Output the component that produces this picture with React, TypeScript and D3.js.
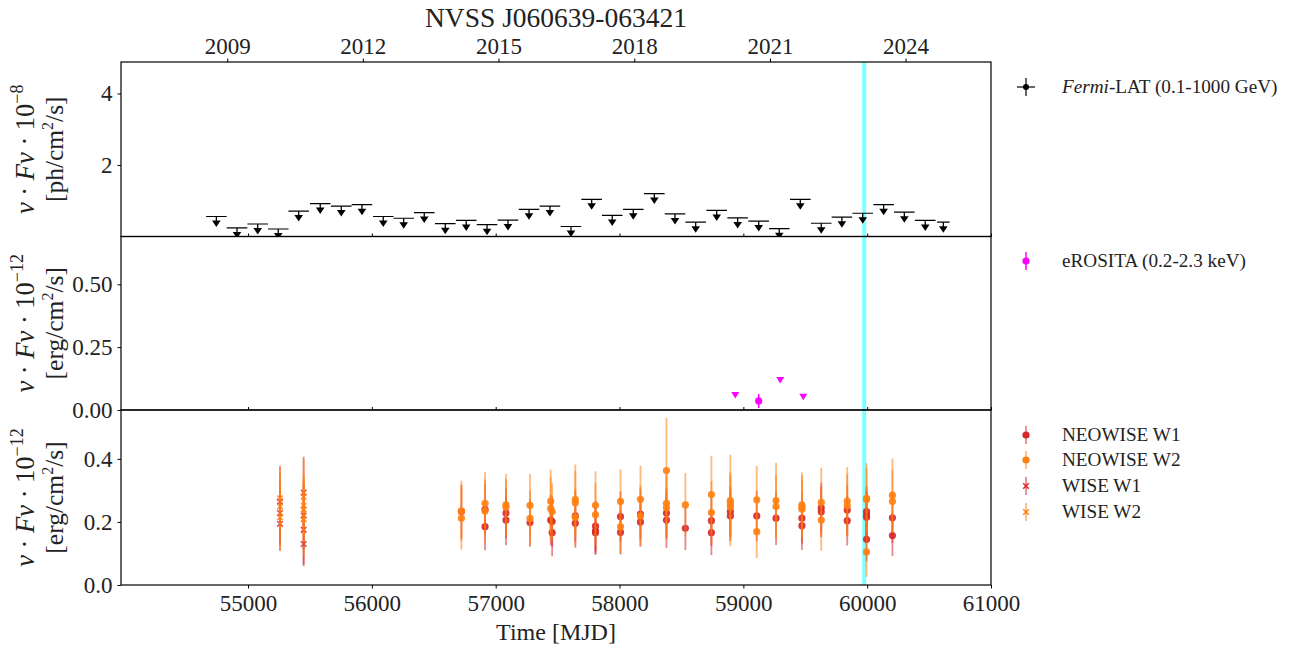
import { useEffect, useRef } from "react";
import * as d3 from "d3";

// ---------- data ----------
const fermiMjd = [54744, 54911, 55078, 55244, 55409, 55583, 55753, 55920, 56092, 56257, 56423, 56593, 56762, 56930, 57099, 57269, 57438, 57608, 57775, 57941, 58111, 58281, 58448, 58615, 58785, 58954, 59124, 59290, 59460, 59629, 59796, 59964, 60133, 60300, 60469, 60615];
const fermiUl = [0.56, 0.24, 0.35, 0.21, 0.71, 0.92, 0.85, 0.89, 0.56, 0.51, 0.67, 0.36, 0.45, 0.33, 0.46, 0.76, 0.85, 0.28, 1.04, 0.59, 0.76, 1.2, 0.63, 0.4, 0.73, 0.52, 0.43, 0.22, 1.04, 0.37, 0.54, 0.65, 0.89, 0.68, 0.45, 0.4];
const fermiHalfBin = [83, 83, 83, 83, 83, 83, 83, 83, 83, 83, 83, 83, 83, 83, 83, 83, 83, 83, 83, 83, 83, 83, 83, 83, 83, 83, 83, 83, 83, 83, 83, 83, 83, 83, 83, 51];

const eroMjd = [58935, 59124, 59298, 59484];
const eroFlux = [0.06, 0.036, 0.119, 0.053];
const eroErr = [0, 0.028, 0, 0];
const eroUl = [true, false, true, true];

const neoW1Mjd = [56723, 56914, 56914, 57083, 57083, 57277, 57444, 57456, 57456, 57643, 57643, 57806, 57806, 57806, 58008, 58008, 58169, 58169, 58379, 58379, 58532, 58742, 58742, 58895, 58895, 59108, 59264, 59473, 59473, 59629, 59629, 59839, 59839, 59995, 59995, 59995, 59995, 60204, 60204];
const neoW1Flux = [0.233, 0.24, 0.185, 0.228, 0.206, 0.198, 0.206, 0.201, 0.166, 0.219, 0.196, 0.187, 0.172, 0.166, 0.217, 0.167, 0.225, 0.2, 0.228, 0.206, 0.18, 0.204, 0.166, 0.233, 0.219, 0.219, 0.212, 0.212, 0.188, 0.245, 0.232, 0.238, 0.204, 0.233, 0.222, 0.215, 0.145, 0.213, 0.157];
const neoW1Err = [0.085, 0.08, 0.075, 0.08, 0.08, 0.075, 0.08, 0.08, 0.075, 0.08, 0.078, 0.08, 0.074, 0.07, 0.08, 0.07, 0.08, 0.078, 0.08, 0.089, 0.069, 0.08, 0.071, 0.08, 0.08, 0.08, 0.085, 0.08, 0.077, 0.08, 0.08, 0.08, 0.079, 0.08, 0.08, 0.08, 0.07, 0.08, 0.065];

const neoW2Mjd = [56723, 56723, 56914, 56914, 57083, 57083, 57277, 57277, 57444, 57444, 57456, 57643, 57643, 57643, 57806, 57806, 58008, 58008, 58169, 58169, 58379, 58379, 58379, 58532, 58742, 58742, 58895, 58895, 58895, 59108, 59108, 59264, 59264, 59473, 59473, 59473, 59629, 59629, 59839, 59839, 59995, 59995, 59995, 60204, 60204];
const neoW2Flux = [0.235, 0.212, 0.259, 0.235, 0.254, 0.247, 0.253, 0.211, 0.266, 0.243, 0.233, 0.272, 0.261, 0.215, 0.253, 0.223, 0.265, 0.185, 0.272, 0.219, 0.363, 0.259, 0.245, 0.254, 0.287, 0.23, 0.268, 0.257, 0.247, 0.27, 0.169, 0.268, 0.249, 0.254, 0.247, 0.24, 0.262, 0.206, 0.266, 0.251, 0.275, 0.271, 0.105, 0.285, 0.265];
const neoW2Err = [0.096, 0.1, 0.1, 0.1, 0.098, 0.09, 0.099, 0.09, 0.1, 0.1, 0.09, 0.11, 0.1, 0.09, 0.108, 0.1, 0.102, 0.087, 0.107, 0.097, 0.167, 0.1, 0.1, 0.101, 0.123, 0.1, 0.145, 0.1, 0.1, 0.108, 0.084, 0.12, 0.1, 0.103, 0.1, 0.09, 0.11, 0.097, 0.108, 0.1, 0.111, 0.1, 0.079, 0.116, 0.1];

const wiseW1Mjd = [55258, 55258, 55258, 55449, 55449, 55449, 55449];
const wiseW1Flux = [0.265, 0.228, 0.194, 0.293, 0.22, 0.175, 0.13];
const wiseW1Err = [0.11, 0.1, 0.085, 0.114, 0.105, 0.11, 0.07];
const wiseW2Mjd = [55258, 55258, 55258, 55449, 55449, 55449, 55449];
const wiseW2Flux = [0.275, 0.249, 0.215, 0.28, 0.251, 0.24, 0.209];
const wiseW2Err = [0.103, 0.1, 0.106, 0.117, 0.1, 0.1, 0.119];

const mjdTicks = [55000, 56000, 57000, 58000, 59000, 60000, 61000];
const yearTicks = [2009, 2012, 2015, 2018, 2021, 2024];
const highlightMjd = 59976;

const fermiTicks = [2, 4];
const eroTicks = [0, 0.25, 0.5];
const wiseTicks = [0, 0.2, 0.4];

const FONT = "'Liberation Serif', 'DejaVu Serif', serif";
const red = "#d62728";
const orange = "#ff7f0e";
const magenta = "#ff00ff";

const left = 121;
const right = 991;
const rows = [62, 236.5, 410, 585];

function App() {
    const svgRef = useRef<SVGSVGElement>(null);

    useEffect(() => {
        document.body.style.margin = "0";
        const svg = d3.select(svgRef.current);
        svg.selectAll("*").remove();
        svg.style("font-family", FONT);

        const x = d3.scaleLinear().domain([53974, 61000]).range([left, right]);
        const y1 = d3.scaleLinear().domain([0, 4.88]).range([rows[1], rows[0]]);
        const y2 = d3.scaleLinear().domain([0, 0.69]).range([rows[2], rows[1]]);
        const y3 = d3.scaleLinear().domain([0, 0.555]).range([rows[3], rows[2]]);

        // clip paths per panel
        const defs = svg.append("defs");
        [0, 1, 2].forEach((i) => {
            defs.append("clipPath")
                .attr("id", "clip" + i)
                .append("rect")
                .attr("x", left)
                .attr("y", rows[i])
                .attr("width", right - left)
                .attr("height", rows[i + 1] - rows[i]);
        });

        // cyan highlight across all panels
        svg.append("rect")
            .attr("x", x(highlightMjd) - 2)
            .attr("y", rows[0])
            .attr("width", 4)
            .attr("height", rows[3] - rows[0])
            .attr("fill", "#00ffff")
            .attr("opacity", 0.5);

        // ####### panel 1 : Fermi upper limits #######
        const g1 = svg.append("g").attr("clip-path", "url(#clip0)");
        fermiMjd.forEach((m, i) => {
            const cx = x(m);
            const cy = y1(fermiUl[i]);
            g1.append("line")
                .attr("x1", x(m - fermiHalfBin[i]))
                .attr("x2", x(m + fermiHalfBin[i]))
                .attr("y1", cy)
                .attr("y2", cy)
                .attr("stroke", "black")
                .attr("stroke-width", 1.2);
            g1.append("line")
                .attr("x1", cx).attr("x2", cx)
                .attr("y1", cy).attr("y2", cy + 5)
                .attr("stroke", "black")
                .attr("stroke-width", 1.3);
            g1.append("path")
                .attr("d", `M${cx - 4.3},${cy + 4}L${cx + 4.3},${cy + 4}L${cx},${cy + 10.5}Z`)
                .attr("fill", "black");
        });

        // ####### panel 2 : eROSITA #######
        const g2 = svg.append("g").attr("clip-path", "url(#clip1)");
        eroMjd.forEach((m, i) => {
            const cx = x(m);
            const cy = y2(eroFlux[i]);
            if (eroUl[i]) {
                g2.append("path")
                    .attr("d", `M${cx - 4},${cy - 3}L${cx + 4},${cy - 3}L${cx},${cy + 3.5}Z`)
                    .attr("fill", magenta);
            } else {
                g2.append("line")
                    .attr("x1", cx).attr("x2", cx)
                    .attr("y1", y2(eroFlux[i] + eroErr[i]))
                    .attr("y2", y2(eroFlux[i] - eroErr[i]))
                    .attr("stroke", magenta)
                    .attr("stroke-width", 1.5);
                g2.append("circle").attr("cx", cx).attr("cy", cy).attr("r", 3.6).attr("fill", magenta);
            }
        });

        // ####### panel 3 : WISE / NEOWISE #######
        const g3 = svg.append("g").attr("clip-path", "url(#clip2)");
        function series(mjd: number[], flux: number[], err: number[], color: string, cross: boolean) {
            mjd.forEach((m, i) => {
                g3.append("line")
                    .attr("x1", x(m)).attr("x2", x(m))
                    .attr("y1", y3(flux[i] + err[i]))
                    .attr("y2", y3(flux[i] - err[i]))
                    .attr("stroke", color)
                    .attr("stroke-opacity", 0.55)
                    .attr("stroke-width", 1.8);
            });
            mjd.forEach((m, i) => {
                const cx = x(m);
                const cy = y3(flux[i]);
                if (cross) {
                    g3.append("path")
                        .attr("d", `M${cx - 2.8},${cy - 2.8}L${cx + 2.8},${cy + 2.8}M${cx - 2.8},${cy + 2.8}L${cx + 2.8},${cy - 2.8}`)
                        .attr("stroke", color)
                        .attr("stroke-width", 1.5)
                        .attr("opacity", 0.85);
                } else {
                    g3.append("circle").attr("cx", cx).attr("cy", cy).attr("r", 3.6)
                        .attr("fill", color).attr("opacity", 0.9);
                }
            });
        }
        series(neoW1Mjd, neoW1Flux, neoW1Err, red, false);
        series(neoW2Mjd, neoW2Flux, neoW2Err, orange, false);
        series(wiseW1Mjd, wiseW1Flux, wiseW1Err, red, true);
        series(wiseW2Mjd, wiseW2Flux, wiseW2Err, orange, true);

        // ####### frames #######
        [0, 1, 2].forEach((i) => {
            svg.append("rect")
                .attr("x", left)
                .attr("y", rows[i])
                .attr("width", right - left)
                .attr("height", rows[i + 1] - rows[i])
                .attr("fill", "none")
                .attr("stroke", "black")
                .attr("stroke-width", 1.2);
        });

        // ####### axes #######
        const styleAxis = (sel: any, size: number) => {
            sel.attr("font-family", FONT).attr("font-size", size);
            sel.select(".domain").remove();
            sel.selectAll("line").attr("stroke", "black").attr("stroke-width", 1);
            sel.selectAll("text").attr("font-family", FONT).attr("font-size", size).attr("fill", "#222");
        };

        svg.append("g")
            .attr("transform", `translate(0,${rows[3]})`)
            .call(d3.axisBottom(x).tickValues(mjdTicks).tickSize(3.5).tickPadding(6).tickFormat(d3.format("d")))
            .call((s) => styleAxis(s, 23));

        // inner panel borders: ticks pointing up
        [1, 2].forEach((r) => {
            svg.append("g")
                .attr("transform", `translate(0,${rows[r]})`)
                .call(d3.axisTop(x).tickValues(mjdTicks).tickSize(3).tickFormat(() => ""))
                .call((s) => styleAxis(s, 10));
        });

        // top year axis
        const yearMjd = yearTicks.map((yr) => (Date.UTC(yr, 0, 1) - Date.UTC(1858, 10, 17)) / 86400000);
        svg.append("g")
            .attr("transform", `translate(0,${rows[0]})`)
            .call(d3.axisTop(x).tickValues(yearMjd).tickSize(3.5).tickPadding(5).tickFormat((d, i) => String(yearTicks[i])))
            .call((s) => styleAxis(s, 23));

        svg.append("g")
            .attr("transform", `translate(${left},0)`)
            .call(d3.axisLeft(y1).tickValues(fermiTicks).tickSize(3.5).tickPadding(5).tickFormat(d3.format("d")))
            .call((s) => styleAxis(s, 23));
        svg.append("g")
            .attr("transform", `translate(${left},0)`)
            .call(d3.axisLeft(y2).tickValues(eroTicks).tickSize(3.5).tickPadding(5).tickFormat(d3.format(".2f")))
            .call((s) => styleAxis(s, 23));
        svg.append("g")
            .attr("transform", `translate(${left},0)`)
            .call(d3.axisLeft(y3).tickValues(wiseTicks).tickSize(3.5).tickPadding(5).tickFormat(d3.format(".1f")))
            .call((s) => styleAxis(s, 23));

        // ####### y labels #######
        const yLabel = (cy: number, exp: string, unit: string) => {
            const t1 = svg.append("text")
                .attr("transform", `translate(34,${cy}) rotate(-90)`)
                .attr("text-anchor", "middle")
                .attr("font-size", 26.5)
                .attr("fill", "#222");
            t1.append("tspan").attr("font-style", "italic").text("ν");
            t1.append("tspan").text(" · ");
            t1.append("tspan").attr("font-style", "italic").text("Fν");
            t1.append("tspan").text(" · 10");
            t1.append("tspan").attr("font-size", 18).attr("dy", -11).text(exp);

            const t2 = svg.append("text")
                .attr("transform", `translate(63,${cy}) rotate(-90)`)
                .attr("text-anchor", "middle")
                .attr("font-size", 25.5)
                .attr("fill", "#222");
            t2.append("tspan").text("[" + unit + "/cm");
            t2.append("tspan").attr("font-size", 16).attr("dy", -10).text("2");
            t2.append("tspan").attr("dy", 10).text("/s]");
        };
        yLabel((rows[0] + rows[1]) / 2, "−8", "ph");
        yLabel((rows[1] + rows[2]) / 2, "−12", "erg");
        yLabel((rows[2] + rows[3]) / 2, "−12", "erg");

        // ####### title & x label #######
        svg.append("text")
            .attr("x", (left + right) / 2)
            .attr("y", 27)
            .attr("text-anchor", "middle")
            .attr("font-size", 27.5)
            .attr("fill", "#222")
            .text("NVSS J060639-063421");
        svg.append("text")
            .attr("x", (left + right) / 2)
            .attr("y", 640)
            .attr("text-anchor", "middle")
            .attr("font-size", 24)
            .attr("fill", "#222")
            .text("Time [MJD]");

        // ####### legends #######
        const lx = 1026;
        const tx = 1062;
        const lg = svg.append("g").attr("font-size", 19.2).attr("fill", "#222");

        // Fermi
        lg.append("line").attr("x1", lx - 9).attr("x2", lx + 9).attr("y1", 87).attr("y2", 87).attr("stroke", "black").attr("stroke-width", 1.2);
        lg.append("line").attr("x1", lx).attr("x2", lx).attr("y1", 78).attr("y2", 96).attr("stroke", "black").attr("stroke-width", 1.2);
        lg.append("circle").attr("cx", lx).attr("cy", 87).attr("r", 3).attr("fill", "black");
        const ft = lg.append("text").attr("x", tx).attr("y", 93);
        ft.append("tspan").attr("font-style", "italic").text("Fermi");
        ft.append("tspan").text("-LAT (0.1-1000 GeV)");

        // eROSITA
        lg.append("line").attr("x1", lx).attr("x2", lx).attr("y1", 252).attr("y2", 270).attr("stroke", magenta).attr("stroke-width", 1.5);
        lg.append("circle").attr("cx", lx).attr("cy", 261).attr("r", 3.6).attr("fill", magenta);
        lg.append("text").attr("x", tx).attr("y", 267).text("eROSITA (0.2-2.3 keV)");

        const wiseLegend = [
            { label: "NEOWISE W1", color: red, cross: false, y: 435 },
            { label: "NEOWISE W2", color: orange, cross: false, y: 460 },
            { label: "WISE W1", color: red, cross: true, y: 486 },
            { label: "WISE W2", color: orange, cross: true, y: 512 },
        ];
        wiseLegend.forEach((d) => {
            lg.append("line").attr("x1", lx).attr("x2", lx).attr("y1", d.y - 9).attr("y2", d.y + 9)
                .attr("stroke", d.color).attr("stroke-opacity", 0.55).attr("stroke-width", 1.8);
            if (d.cross) {
                lg.append("path")
                    .attr("d", `M${lx - 2.8},${d.y - 2.8}L${lx + 2.8},${d.y + 2.8}M${lx - 2.8},${d.y + 2.8}L${lx + 2.8},${d.y - 2.8}`)
                    .attr("stroke", d.color).attr("stroke-width", 1.5);
            } else {
                lg.append("circle").attr("cx", lx).attr("cy", d.y).attr("r", 3.6).attr("fill", d.color);
            }
            lg.append("text").attr("x", tx).attr("y", d.y + 6).text(d.label);
        });
    }, []);

    return <svg ref={svgRef} width={1290} height={649} style={{ display: "block", background: "white" }}></svg>;
}

export default App;
